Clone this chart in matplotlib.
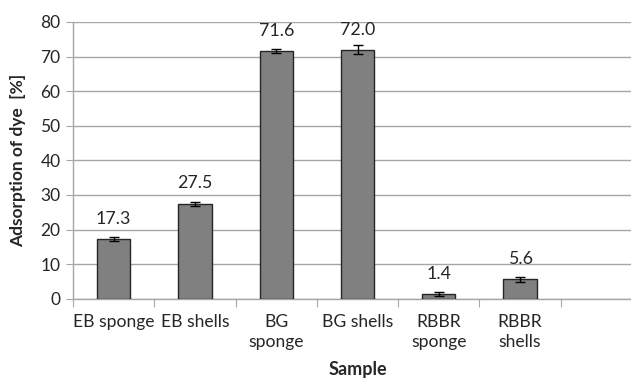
import numpy as np
import matplotlib.pyplot as plt

plt.rcParams['font.family'] = ['Lato', 'DejaVu Sans']

samples = ['EB sponge', 'EB shells', 'BG\nsponge', 'BG shells', 'RBBR\nsponge', 'RBBR\nshells', '']
adsorption = [17.3, 27.5, 71.6, 72.0, 1.4, 5.6]
errors = [0.5, 0.6, 0.7, 1.35, 0.6, 0.7]
y_ticks = [0, 10, 20, 30, 40, 50, 60, 70, 80]

W, H = 631, 381
fig = plt.figure(figsize=(W / 100, H / 100), dpi=100)
# axis runs past the right edge of the picture, as in the reference
left, right, top, bottom = 73, 642, 22, 298.7
ax = fig.add_axes([left / W, 1 - bottom / H, (right - left) / W, (bottom - top) / H])

x = np.arange(len(adsorption))
ax.bar(x, adsorption, width=0.41, color='#808080', edgecolor='#262626', linewidth=1, zorder=3)
ax.errorbar(x, adsorption, yerr=errors, fmt='none', ecolor='black', elinewidth=1,
            capsize=3.3, capthick=1, zorder=4)

for xi, v in zip(x, adsorption):
    ax.annotate(f'{v:.1f}', (xi, v), xytext=(0, 14.5), textcoords='offset points',
                ha='center', va='center', fontsize=12.8, color='#262626')

ax.set_xlim(-0.5, len(samples) - 0.5)
ax.set_ylim(0, 80)
ax.set_yticks(y_ticks)
ax.tick_params(axis='y', labelsize=12.5, colors='#262626', length=5, color='#a6a6a6', pad=4)
ax.yaxis.grid(True, color='#a6a6a6', linewidth=1, zorder=0)
ax.set_axisbelow(True)

# category labels between boundary ticks
slots = np.arange(len(samples))
ax.set_xticks(np.arange(len(samples) + 1) - 0.5)
ax.set_xticklabels([])
ax.set_xticks(slots, minor=True)
ax.set_xticklabels(samples, minor=True, fontsize=12.6, color='#262626', linespacing=1.3)
ax.tick_params(axis='x', which='major', length=6, color='#a6a6a6')
ax.tick_params(axis='x', which='minor', length=0, pad=11)
for lbl in ax.get_xticklabels(minor=True):
    lbl.set_verticalalignment('top')

for s in ['top', 'right']:
    ax.spines[s].set_visible(False)
for s in ['left', 'bottom']:
    ax.spines[s].set_color('#a6a6a6')
    ax.spines[s].set_linewidth(1)

ax.set_ylabel('Adsorption of dye  [%]', fontsize=12.5, fontweight='bold', color='#262626', labelpad=10)
ax.set_xlabel('Sample', fontsize=13, fontweight='bold', color='#262626', labelpad=8)

fig.savefig('out.png', dpi=100, facecolor='white')
